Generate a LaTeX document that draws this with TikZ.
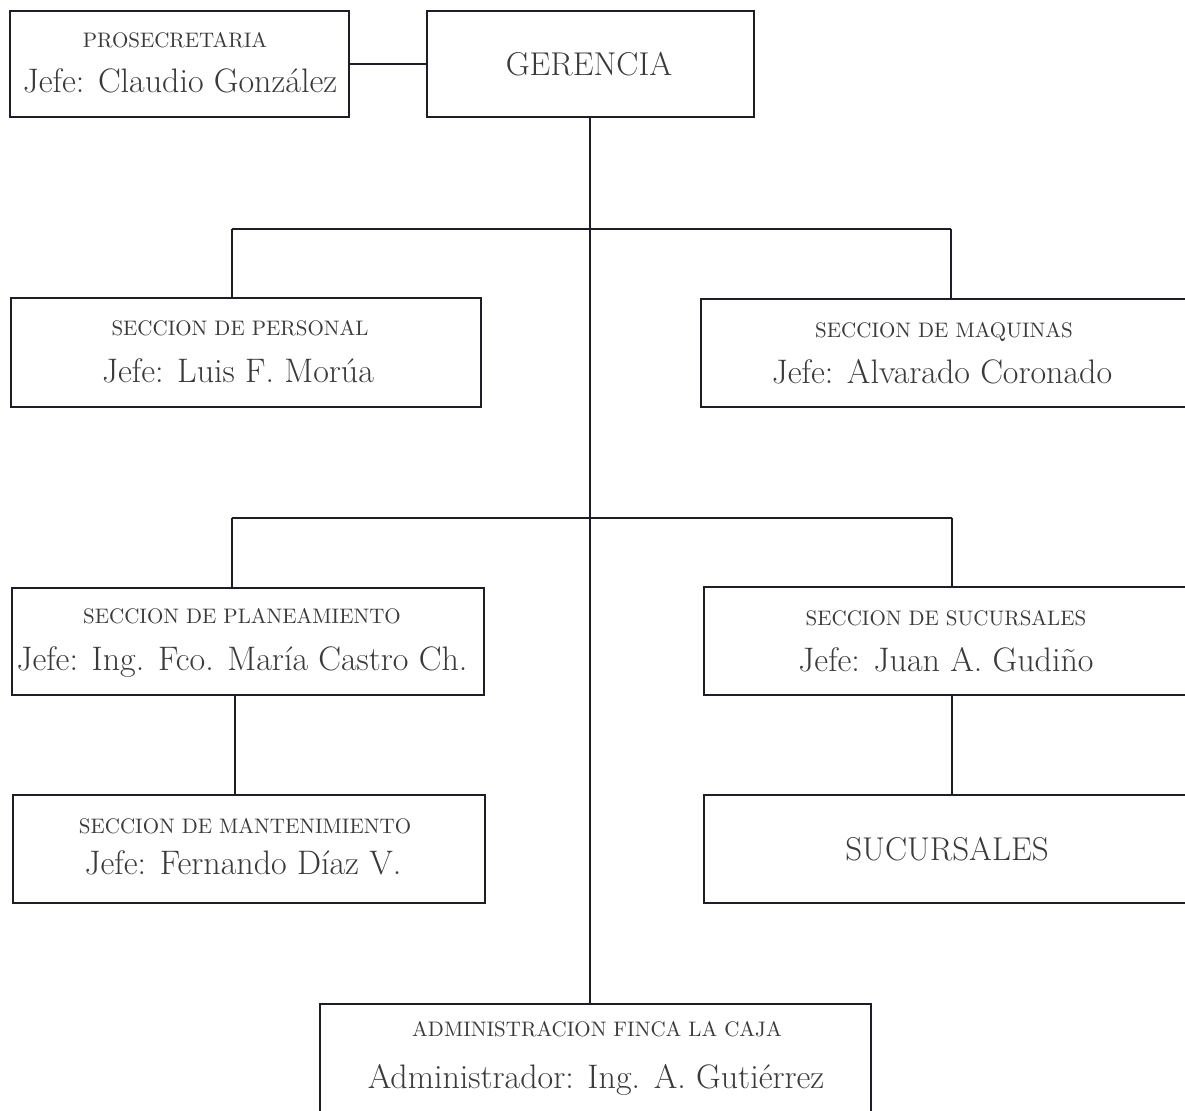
\documentclass[tikz,border=0pt]{standalone}
\usepackage{fontspec}
\definecolor{ink}{HTML}{1E1E28}
\definecolor{txt}{HTML}{3A3A3A}
\begin{document}
\begin{tikzpicture}[x=0.5pt,y=-0.5pt,
  box/.style={draw=ink, line width=1pt, rectangle, inner sep=0pt, outer sep=0pt},
  link/.style={draw=ink, line width=1pt},
  sm/.style={font=\fontsize{10.5}{12}\selectfont, text=txt, anchor=base, inner sep=0pt},
  bg/.style={font=\fontsize{17}{19}\selectfont, text=txt, anchor=base, inner sep=0pt},
  hg/.style={font=\fontsize{16.5}{18}\selectfont, text=txt, anchor=base, inner sep=0pt}]
\fill[white] (0,0) rectangle (1185,1110);
\clip (0,0) rectangle (1185,1110);

% boxes
\node[box, minimum width=169.5pt, minimum height=53pt] (pros) at (179.5,64) {};
\node[box, minimum width=163.5pt, minimum height=53pt] (ger) at (590,64) {};
\node[box, minimum width=235pt, minimum height=54.5pt] (pers) at (246,352.5) {};
\node[box, minimum width=247pt, minimum height=54pt] (maq) at (948,353) {};
\node[box, minimum width=236pt, minimum height=53.5pt] (plan) at (248,641.5) {};
\node[box, minimum width=245.5pt, minimum height=54pt] (sucsec) at (949.5,641) {};
\node[box, minimum width=236pt, minimum height=54pt] (mant) at (249,849) {};
\node[box, minimum width=245.5pt, minimum height=54pt] (suc) at (949.5,849) {};
\node[box, minimum width=275.5pt, minimum height=57pt] (admin) at (595.5,1061) {};

% texts
\node[sm] (prosA) at (175,47) {PROSECRETARIA};
\node[bg] (prosB) at (180,92) {Jefe: Claudio González};
\node[hg] (gerA) at (589,75) {GERENCIA};
\node[sm] (persA) at (240,335) {SECCION DE PERSONAL};
\node[bg] (persB) at (238,382) {Jefe: Luis F. Morúa};
\node[sm] (maqA) at (944,337) {SECCION DE MAQUINAS};
\node[bg] (maqB) at (942,383) {Jefe: Alvarado Coronado};
\node[sm] (planA) at (242,623) {SECCION DE PLANEAMIENTO};
\node[bg] (planB) at (242,670) {Jefe: Ing. Fco. María Castro Ch.};
\node[sm] (sucsecA) at (946,625) {SECCION DE SUCURSALES};
\node[bg] (sucsecB) at (946,671) {Jefe: Juan A. Gudiño};
\node[sm] (mantA) at (245,833) {SECCION DE MANTENIMIENTO};
\node[bg] (mantB) at (243,874) {Jefe: Fernando Díaz V.};
\node[hg] (sucA) at (947,860) {SUCURSALES};
\node[sm] (adminA) at (597,1036) {ADMINISTRACION FINCA LA CAJA};
\node[bg] (adminB) at (596,1088) {Administrador: Ing. A. Gutiérrez};

% connectors
\draw[link] (pros.east) -- (ger.west);
\draw[link] (ger.south) -- (admin.north -| ger.south);

\coordinate (b1L) at (232,229);
\coordinate (b1R) at (951,229);
\draw[link] (b1L) -- (b1R);
\draw[link] (b1L) -- (b1L |- pers.north);
\draw[link] (b1R) -- (b1R |- maq.north);

\coordinate (b2L) at (232,518);
\coordinate (b2R) at (952,518);
\draw[link] (b2L) -- (b2R);
\draw[link] (b2L) -- (b2L |- plan.north);
\draw[link] (b2R) -- (b2R |- sucsec.north);

\coordinate (pmx) at (235,745);
\draw[link] (pmx |- plan.south) -- (pmx |- mant.north);
\coordinate (ssx) at (952,745);
\draw[link] (ssx |- sucsec.south) -- (ssx |- suc.north);
\end{tikzpicture}
\end{document}
